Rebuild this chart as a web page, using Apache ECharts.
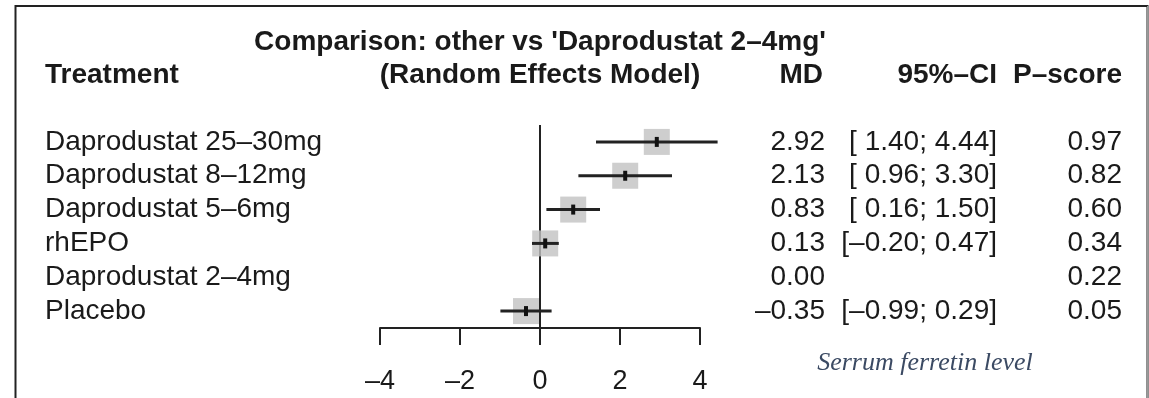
<!DOCTYPE html>
<html>
<head>
<meta charset="utf-8">
<script src="https://cdn.jsdelivr.net/npm/echarts@6/dist/echarts.min.js"></script>
<style>
html,body{margin:0;padding:0;background:#fff;}
#chart{width:1149px;height:398px;}
</style>
</head>
<body>
<div id="chart"></div>
<script>
const treatments = ['Daprodustat 25\u201330mg','Daprodustat 8\u201312mg','Daprodustat 5\u20136mg','rhEPO','Daprodustat 2\u20134mg','Placebo'];
const md = [2.92, 2.13, 0.83, 0.13, 0.00, -0.35];
const lower = [1.40, 0.96, 0.16, -0.20, null, -0.99];
const upper = [4.44, 3.30, 1.50, 0.47, null, 0.29];
const pscore = [0.97, 0.82, 0.60, 0.34, 0.22, 0.05];
const xTicks = [-4, -2, 0, 2, 4];
const isReference = [false, false, false, false, true, false];

const FONT = '"Liberation Sans", Arial, Helvetica, sans-serif';
const TXT = '#1a1a1a';
const FS = 28;

function fmt(v){ const s = Math.abs(v).toFixed(2); return (v < 0 ? '\u2013' : '') + s; }
function fmtCI(lo, hi){
  if (lo === null) return '';
  const a = lo < 0 ? '\u2013' + Math.abs(lo).toFixed(2) : ' ' + lo.toFixed(2);
  return '[' + a + '; ' + fmt(hi) + ']';
}

const rows = treatments.map((t, i) => [md[i], i]);
const squares = md.map((v, i) => isReference[i] ? null : [v, i]).filter(d => d);
const ciData = md.map((v, i) => lower[i] === null ? null : [lower[i], upper[i], i, v]).filter(d => d);

const chart = echarts.init(document.getElementById('chart'));
chart.setOption({
  animation: false,
  backgroundColor: '#fff',
  grid: { left: 380, width: 320, top: 125, height: 203 },
  xAxis: {
    type: 'value', min: xTicks[0], max: xTicks[xTicks.length - 1], interval: xTicks[1] - xTicks[0],
    splitLine: { show: false },
    axisLine: { show: true, onZero: false, lineStyle: { color: '#222', width: 2 } },
    axisTick: { show: true, inside: false, length: 17, lineStyle: { color: '#222', width: 2 } },
    axisLabel: {
      margin: 40, fontSize: 27, fontFamily: FONT, color: TXT,
      formatter: v => (v < 0 ? '\u2013' + Math.abs(v) : '' + v)
    }
  },
  yAxis: { type: 'value', min: -0.5, max: 5.5, inverse: true, show: false },
  graphic: [
    { type: 'rect', shape: { x: 15.5, y: 6, width: 1132, height: 420 }, style: { fill: 'none', stroke: '#222', lineWidth: 2 }, silent: true },
    { type: 'line', shape: { x1: 1147.5, y1: 6, x2: 1147.5, y2: 398 }, style: { stroke: '#999', lineWidth: 1 } },
    { type: 'text', x: 540, y: 42, style: { text: "Comparison: other vs 'Daprodustat 2\u20134mg'", font: 'bold 28px ' + FONT, fill: TXT, align: 'center', verticalAlign: 'middle' } },
    { type: 'text', x: 540, y: 75, style: { text: '(Random Effects Model)', font: 'bold 28px ' + FONT, fill: TXT, align: 'center', verticalAlign: 'middle' } },
    { type: 'text', x: 45, y: 75, style: { text: 'Treatment', font: 'bold 28px ' + FONT, fill: TXT, align: 'left', verticalAlign: 'middle' } },
    { type: 'text', x: 823, y: 75, style: { text: 'MD', font: 'bold 28px ' + FONT, fill: TXT, align: 'right', verticalAlign: 'middle' } },
    { type: 'text', x: 997, y: 75, style: { text: '95%\u2013CI', font: 'bold 28px ' + FONT, fill: TXT, align: 'right', verticalAlign: 'middle' } },
    { type: 'text', x: 1122, y: 75, style: { text: 'P\u2013score', font: 'bold 28px ' + FONT, fill: TXT, align: 'right', verticalAlign: 'middle' } },
    { type: 'text', x: 925, y: 363, style: { text: 'Serrum ferretin level', font: 'italic 26px "Liberation Serif", "Times New Roman", serif', fill: '#3b4a63', align: 'center', verticalAlign: 'middle' } }
  ],
  series: [
    {
      type: 'line', data: [[0, -0.5], [0, 5.5]], symbol: 'none', silent: true,
      lineStyle: { color: '#222', width: 2 }, z: 1
    },
    {
      type: 'scatter', data: squares, symbol: 'rect', symbolSize: 26,
      itemStyle: { color: '#c2c2c2' }, silent: true, z: 2
    },
    {
      type: 'custom', data: ciData, z: 3, silent: true,
      renderItem: (params, api) => {
        const p1 = api.coord([api.value(0), api.value(2)]);
        const p2 = api.coord([api.value(1), api.value(2)]);
        const pm = api.coord([api.value(3), api.value(2)]);
        return { type: 'group', children: [
          { type: 'line', shape: { x1: p1[0], y1: p1[1], x2: p2[0], y2: p2[1] }, style: { stroke: '#222', lineWidth: 3 } },
          { type: 'rect', shape: { x: pm[0] - 2, y: pm[1] - 5, width: 4, height: 10 }, style: { fill: '#111' } }
        ]};
      }
    },
    {
      type: 'custom', data: rows, z: 4, silent: true,
      renderItem: (params, api) => {
        const i = params.dataIndex;
        const y = api.coord([0, api.value(1)])[1];
        const st = (text, x, align) => ({ type: 'text', x: x, y: y, style: { text: text, font: FS + 'px ' + FONT, fill: TXT, align: align, verticalAlign: 'middle' } });
        return { type: 'group', children: [
          st(treatments[i], 45, 'left'),
          st(fmt(md[i]), 825, 'right'),
          st(fmtCI(lower[i], upper[i]), 997, 'right'),
          st(pscore[i].toFixed(2), 1122, 'right')
        ]};
      }
    }
  ]
});
</script>
</body>
</html>
